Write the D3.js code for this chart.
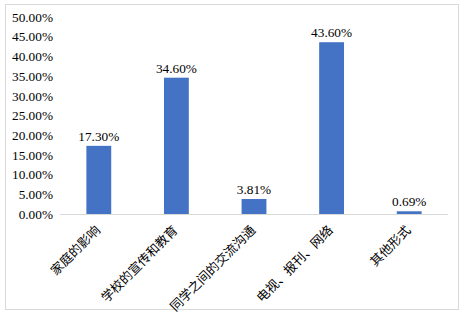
<!DOCTYPE html>
<html>
<head>
<meta charset="utf-8">
<script src="https://cdn.jsdelivr.net/npm/d3@7"></script>
<style>
  body { margin: 0; background: #fff; }
</style>
</head>
<body>
<div id="chart"></div>
<script>
// Chart data
const categories = ['家庭的影响', '学校的宣传和教育', '同学之间的交流沟通', '电视、报刊、网络', '其他形式'];
const values = [17.30, 34.60, 3.81, 43.60, 0.69];
const yTicks = [0, 5, 10, 15, 20, 25, 30, 35, 40, 45, 50];

const W = 467, H = 313;
const plot = { left: 60, right: 448, top: 17, bottom: 214 };

const svg = d3.select('#chart')
  .append('svg')
  .attr('width', W)
  .attr('height', H);

// Chart area frame
svg.append('rect')
  .attr('x', 5.5)
  .attr('y', 4.5)
  .attr('width', 453)
  .attr('height', 305)
  .attr('fill', '#fff')
  .attr('stroke', '#d9d9d9');

const x = d3.scaleBand()
  .domain(categories)
  .range([plot.left, plot.right])
  .paddingInner(0.68)
  .paddingOuter(0.34);

const y = d3.scaleLinear()
  .domain([0, 50])
  .range([plot.bottom, plot.top]);

const numFont = '"Liberation Serif", "Times New Roman", serif';
const cjkFont = '"Liberation Serif", "Noto Sans CJK SC", serif';

// Y axis (labels only)
const yAxis = svg.append('g')
  .attr('transform', `translate(${plot.left},0)`)
  .call(d3.axisLeft(y).tickValues(yTicks).tickSize(0).tickPadding(7)
    .tickFormat(d => d.toFixed(2) + '%'));
yAxis.select('.domain').remove();
yAxis.selectAll('text')
  .attr('fill', '#000')
  .style('font-family', numFont)
  .style('font-size', '13.3px');

// Baseline
svg.append('line')
  .attr('x1', plot.left)
  .attr('x2', plot.right)
  .attr('y1', y(0) + 0.5)
  .attr('y2', y(0) + 0.5)
  .attr('stroke', '#d9d9d9');

// Bars
svg.append('g')
  .selectAll('rect')
  .data(values)
  .join('rect')
  .attr('x', (d, i) => x(categories[i]))
  .attr('y', d => y(d))
  .attr('width', x.bandwidth())
  .attr('height', d => y(0) - y(d))
  .attr('fill', '#4472c4');

// Value labels
svg.append('g')
  .selectAll('text')
  .data(values)
  .join('text')
  .attr('x', (d, i) => x(categories[i]) + x.bandwidth() / 2)
  .attr('y', d => y(d) - 5)
  .attr('text-anchor', 'middle')
  .style('font-family', numFont)
  .style('font-size', '13.3px')
  .text(d => d.toFixed(2) + '%');

// Category labels, rotated
svg.append('g')
  .selectAll('text')
  .data(categories)
  .join('text')
  .attr('transform', d => `translate(${x(d) + x.bandwidth() / 2 - 1},${plot.bottom + 14}) rotate(-45)`)
  .attr('text-anchor', 'end')
  .attr('dy', '0.35em')
  .style('font-family', cjkFont)
  .style('font-size', '12.7px')
  .text(d => d);
</script>
</body>
</html>
